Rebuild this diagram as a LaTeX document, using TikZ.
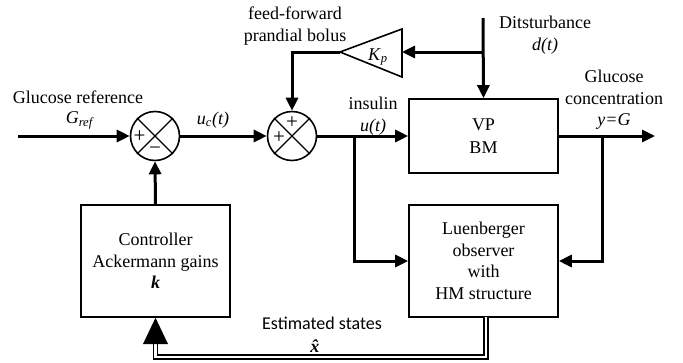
\documentclass[tikz,border=0pt]{standalone}
\usepackage{fontspec}
\setmainfont{Liberation Serif}
\newfontfamily\calib{Carlito}
\usetikzlibrary{arrows.meta,calc}
\begin{document}
\begin{tikzpicture}[x=1pt,y=-1pt,
  font=\fontsize{18}{21.5}\selectfont,
  blk/.style={draw,line width=1.6pt,minimum width=149pt,align=center,inner sep=0pt},
  sumc/.style={draw,circle,line width=1.6pt,minimum size=49pt,inner sep=0pt},
  sig/.style={line width=3pt,-{Triangle[length=13pt,width=12pt]}},
  sgn/.style={font=\fontsize{21}{21}\selectfont,inner sep=0pt},
  lbl/.style={align=center,inner sep=0pt},
  dbl/.style={double,double distance=2.6pt,line width=1.3pt}]
\useasboundingbox (0,0) rectangle (683,362);
% blocks
\node[blk,minimum height=74pt] (vp) at (483.5,136) {VP\\[1pt]BM};
\node[blk,minimum height=112pt] (obs) at (483.5,261) {Luenberger\\observer\\with\\HM structure};
\node[blk,minimum height=112pt] (ctrl) at (155.5,261) {Controller\\Ackermann gains\\\textbf{\textit{k}}};
% summing junctions
\node[sumc] (s1) at (155,136) {};
\draw[line width=1.4pt] (s1.north west) -- (s1.south east) (s1.north east) -- (s1.south west);
\node[sgn] (s1p) at (139.5,136.5) {+};
\node[sgn] (s1m) at (155,151) {\textminus};
\node[sumc] (s2) at (292,136) {};
\draw[line width=1.4pt] (s2.north west) -- (s2.south east) (s2.north east) -- (s2.south west);
\node[sgn] (s2t) at (292,123) {+};
\node[sgn] (s2l) at (279,138) {+};
% gain triangle
\coordinate (kptip) at (340,52);
\coordinate (kpbase) at (402,52);
\draw[line width=1.6pt] (kptip) -- (402,29) -- (402,77) -- cycle;
\node (kp) at (378,57) {\textit{K}\textsubscript{\textit{p}}};
% coordinates
\coordinate (in) at (18,136);
\coordinate (dtop) at (483,18);
\coordinate (dbr) at (483,52);
\coordinate (ubr) at (354,136);
\coordinate (ybr) at (602,136);
\coordinate (yout) at (655,136);
% connectors
\draw[sig] (in) -- (s1.west);
\draw[sig] (s1.east) -- (s2.west);
\draw[sig] (s2.east) -- (vp.west);
\draw[sig] (ubr) |- (obs.west);
\draw[sig] (vp.east) -- (yout);
\draw[sig] (ybr) |- (obs.east);
\draw[sig] (dtop) -- (vp.north);
\draw[sig] (dbr) -- (kpbase);
\draw[sig] (kptip) -| (s2.north);
\draw[sig] (ctrl.north) -- (s1.south);
% estimated-states double line
\coordinate (ob) at (486,317);
\coordinate (ctip) at (155.5,317.8);
\coordinate (cbase) at (155.5,344);
\draw[dbl] (ob) |- (155.5,357) -- (cbase);
\fill (ctip) -- ($(cbase)+(-12.5,0)$) -- ($(cbase)+(12.5,0)$) -- cycle;
% labels
\node[lbl] (lgr) at (78,97) {Glucose reference};
\node[lbl] (lg) at (80,120) {\textit{G}\textsubscript{\textit{ref}}};
\node[lbl] (luc) at (213,120) {\textit{u}\textsubscript{\textit{c}}\textit{(t)}};
\node[lbl] (lff) at (295,26) {feed-forward\\prandial bolus};
\node[lbl] (lins) at (373,116) {insulin\\\textit{u(t)}};
\node[lbl] (ldist) at (545,35) {Ditsturbance\\\textit{d(t)}};
\node[lbl] (lgc) at (614,100) {Glucose\\concentration\\\textit{y=G}};
\node[lbl,font=\calib\fontsize{18}{21}\selectfont] (lest) at (322,323) {Estimated states};
\node[lbl] (lxh) at (317,346) {\textbf{\textit{\^{x}}}};
\end{tikzpicture}
\end{document}
